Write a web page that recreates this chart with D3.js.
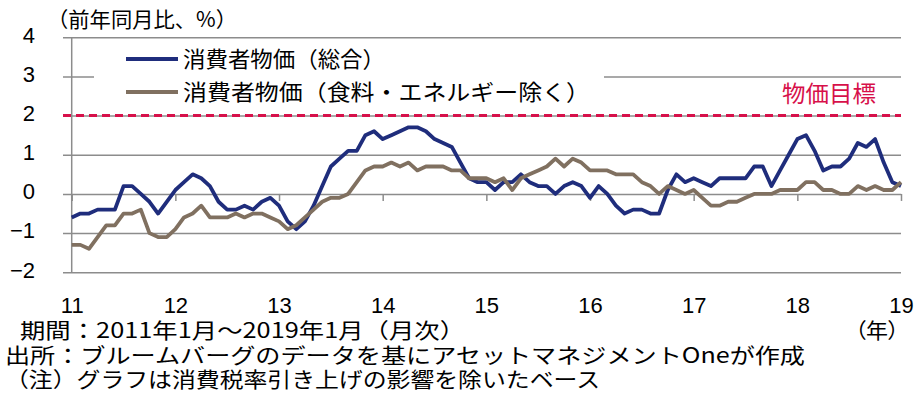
<!DOCTYPE html>
<html>
<head>
<meta charset="utf-8">
<script src="https://cdn.jsdelivr.net/npm/d3@7"></script>
<style>
  body { margin: 0; background: #fff; }
  svg { display: block; font-family: "Noto Sans CJK JP", "Noto Sans", sans-serif; }
  .tick text { font-size: 22px; fill: #000; }
  .palt { font-feature-settings: "palt"; }
</style>
</head>
<body>
<svg id="chart" width="917" height="398"></svg>
<script>
// ---- data (前年同月比, %) ----
const months = d3.timeMonths(new Date(2011, 0, 1), new Date(2019, 0, 2));

const cpiTotal = [
  -0.6, -0.5, -0.5, -0.4, -0.4, -0.4, 0.2, 0.2, 0.0, -0.2, -0.5, -0.2,
  0.1, 0.3, 0.5, 0.4, 0.2, -0.2, -0.4, -0.4, -0.3, -0.4, -0.2, -0.1,
  -0.3, -0.7, -0.9, -0.7, -0.3, 0.2, 0.7, 0.9, 1.1, 1.1, 1.5, 1.6,
  1.4, 1.5, 1.6, 1.7, 1.7, 1.6, 1.4, 1.3, 1.2, 0.8, 0.4, 0.3,
  0.3, 0.1, 0.3, 0.3, 0.5, 0.3, 0.2, 0.2, 0.0, 0.2, 0.3, 0.2,
  -0.1, 0.2, 0.0, -0.3, -0.5, -0.4, -0.4, -0.5, -0.5, 0.1, 0.5, 0.3,
  0.4, 0.3, 0.2, 0.4, 0.4, 0.4, 0.4, 0.7, 0.7, 0.2, 0.6, 1.0,
  1.4, 1.5, 1.1, 0.6, 0.7, 0.7, 0.9, 1.3, 1.2, 1.4, 0.8, 0.3,
  0.2
];

const cpiCore = [
  -1.3, -1.3, -1.4, -1.1, -0.8, -0.8, -0.5, -0.5, -0.4, -1.0, -1.1, -1.1,
  -0.9, -0.6, -0.5, -0.3, -0.6, -0.6, -0.6, -0.5, -0.6, -0.5, -0.5, -0.6,
  -0.7, -0.9, -0.8, -0.6, -0.4, -0.2, -0.1, -0.1, 0.0, 0.3, 0.6, 0.7,
  0.7, 0.8, 0.7, 0.8, 0.6, 0.7, 0.7, 0.7, 0.6, 0.6, 0.4, 0.4,
  0.4, 0.3, 0.4, 0.1, 0.4, 0.5, 0.6, 0.7, 0.9, 0.7, 0.9, 0.8,
  0.6, 0.6, 0.6, 0.5, 0.5, 0.5, 0.3, 0.2, 0.0, 0.2, 0.1, 0.0,
  0.1, -0.1, -0.3, -0.3, -0.2, -0.2, -0.1, 0.0, 0.0, 0.0, 0.1, 0.1,
  0.1, 0.3, 0.3, 0.1, 0.1, 0.0, 0.0, 0.2, 0.1, 0.2, 0.1, 0.1,
  0.3
];

const yTicks = [-2, -1, 0, 1, 2, 3, 4];
const target = 2;
const seriesNames = ["消費者物価（総合）", "消費者物価（食料・エネルギー除く）"];
const notes = [
  "期間：2011年1月～2019年1月（月次）",
  "出所：ブルームバーグのデータを基にアセットマネジメントOneが作成",
  "（注）グラフは消費税率引き上げの影響を除いたベース"
];

// ---- layout ----
const left = 71.7, right = 901;
const svg = d3.select("#chart");

const x = d3.scalePoint().domain(months).range([left, right]);
const y = d3.scaleLinear().domain([-2, 4]).range([272.3, 37.2]);

const janTicks = months.filter(d => d.getMonth() === 0);

// fit text to a measured width
function fit(sel, w) {
  return sel.attr("textLength", w).attr("lengthAdjust", "spacingAndGlyphs");
}

// gridlines + y labels
svg.append("g")
  .attr("transform", "translate(63,0)")
  .call(d3.axisLeft(y).tickValues(yTicks).tickSize(-(right - 63)).tickPadding(28).tickFormat(d3.format("d")))
  .call(g => g.select(".domain").remove())
  .call(g => g.selectAll(".tick line").attr("stroke", "#8c8c8c").attr("stroke-width", 1.5))
  .call(g => g.selectAll(".tick text").attr("dy", "0.22em"));

// y axis line
svg.append("line")
  .attr("x1", left).attr("x2", left)
  .attr("y1", y(4)).attr("y2", y(-2))
  .attr("stroke", "#8c8c8c").attr("stroke-width", 1.5);

// x ticks on zero line
svg.append("g")
  .attr("transform", `translate(0,${y(0)})`)
  .call(d3.axisBottom(x).tickValues(janTicks).tickSize(7).tickFormat(""))
  .call(g => g.select(".domain").remove())
  .call(g => g.selectAll(".tick line").attr("stroke", "#8c8c8c").attr("stroke-width", 1.5));

// x labels at bottom
svg.append("g")
  .attr("transform", "translate(0,297)")
  .call(d3.axisBottom(x).tickValues(janTicks).tickSize(0).tickPadding(0)
    .tickFormat(d3.timeFormat("%y")))
  .call(g => g.select(".domain").remove())
  .call(g => g.selectAll(".tick text").attr("dy", "0.71em"));

// legend background
svg.append("rect")
  .attr("x", 94).attr("y", 42).attr("width", 510).attr("height", 64)
  .attr("fill", "#fff");

// target line
svg.append("line")
  .attr("x1", 63).attr("x2", right)
  .attr("y1", y(target)).attr("y2", y(target))
  .attr("stroke", "#d7104a").attr("stroke-width", 3)
  .attr("stroke-dasharray", "8,5");

fit(svg.append("text")
  .attr("x", 782).attr("y", y(target) - 14)
  .attr("font-size", 23).attr("fill", "#d7104a")
  .text("物価目標"), 94);

// lines
const line = d3.line()
  .x((d, i) => x(months[i]))
  .y(d => y(d));

const colors = ["#1f2d7c", "#807060"];
[cpiTotal, cpiCore].forEach((s, k) => {
  svg.append("path")
    .datum(s)
    .attr("fill", "none")
    .attr("stroke", colors[k])
    .attr("stroke-width", 3.8)
    .attr("stroke-linejoin", "round")
    .attr("d", line);
});

// legend
const legendWidths = [202, 407];
const legend = svg.append("g");
seriesNames.forEach((name, k) => {
  const ly = 59 + k * 33;
  legend.append("line")
    .attr("x1", 126).attr("x2", 178)
    .attr("y1", ly).attr("y2", ly)
    .attr("stroke", colors[k]).attr("stroke-width", 3.8);
  fit(legend.append("text")
    .attr("x", 183).attr("y", ly)
    .attr("dy", "0.35em")
    .attr("font-size", 22)
    .text(name), legendWidths[k]);
});

// unit label
fit(svg.append("text")
  .attr("x", 47).attr("y", 20)
  .attr("dy", "0.35em")
  .attr("font-size", 21)
  .text("（前年同月比、%）"), 190);

fit(svg.append("text")
  .attr("class", "palt")
  .attr("x", 855).attr("y", 331)
  .attr("dy", "0.35em")
  .attr("font-size", 21)
  .text("（年）"), 44);

// notes
const noteX = [20, 5, 5];
const noteW = [445, 800, 595];
notes.forEach((t, k) => {
  fit(svg.append("text")
    .attr("x", noteX[k])
    .attr("y", 331 + k * 24.5)
    .attr("dy", "0.35em")
    .attr("font-size", 21)
    .text(t), noteW[k]);
});
</script>
</body>
</html>
